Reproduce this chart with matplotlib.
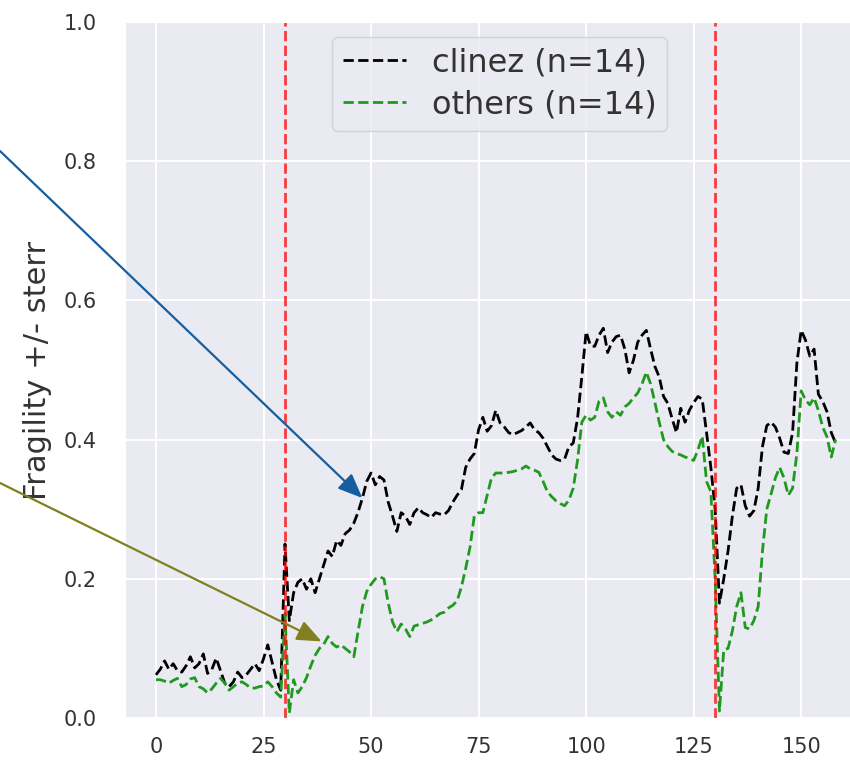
import numpy as np
import matplotlib
matplotlib.use("Agg")
import matplotlib.pyplot as plt
import seaborn as sns

# Mean fragility per time step for the two groups
clinez = [
    0.062, 0.070, 0.082, 0.070, 0.078, 0.068, 0.066, 0.075, 0.088, 0.072,
    0.078, 0.092, 0.064, 0.070, 0.086, 0.068, 0.050, 0.045, 0.052, 0.066,
    0.058, 0.062, 0.070, 0.078, 0.068, 0.085, 0.105, 0.080, 0.055, 0.040,
    0.250, 0.140, 0.180, 0.195, 0.200, 0.185, 0.200, 0.180, 0.200, 0.220,
    0.240, 0.232, 0.255, 0.248, 0.265, 0.270, 0.280, 0.296, 0.316, 0.340,
    0.352, 0.335, 0.347, 0.342, 0.310, 0.290, 0.268, 0.295, 0.290, 0.278,
    0.295, 0.302, 0.295, 0.292, 0.288, 0.295, 0.293, 0.292, 0.298, 0.310,
    0.320, 0.328, 0.360, 0.372, 0.380, 0.414, 0.432, 0.412, 0.420, 0.442,
    0.424, 0.418, 0.410, 0.407, 0.410, 0.413, 0.418, 0.424, 0.414, 0.410,
    0.402, 0.390, 0.378, 0.372, 0.370, 0.372, 0.390, 0.395, 0.430, 0.490,
    0.555, 0.535, 0.534, 0.550, 0.560, 0.525, 0.540, 0.548, 0.550, 0.530,
    0.496, 0.514, 0.540, 0.550, 0.557, 0.530, 0.505, 0.490, 0.462, 0.452,
    0.430, 0.410, 0.445, 0.425, 0.442, 0.453, 0.462, 0.458, 0.410, 0.360,
    0.300, 0.165, 0.200, 0.240, 0.290, 0.330, 0.335, 0.305, 0.290, 0.298,
    0.330, 0.390, 0.420, 0.425, 0.418, 0.402, 0.382, 0.380, 0.410, 0.510,
    0.557, 0.543, 0.520, 0.530, 0.465, 0.455, 0.440, 0.410, 0.395,
]
others = [
    0.055, 0.055, 0.053, 0.050, 0.054, 0.057, 0.045, 0.048, 0.056, 0.058,
    0.045, 0.042, 0.036, 0.042, 0.050, 0.057, 0.050, 0.040, 0.045, 0.050,
    0.052, 0.048, 0.043, 0.043, 0.045, 0.046, 0.052, 0.045, 0.036, 0.030,
    0.150, 0.007, 0.055, 0.036, 0.045, 0.058, 0.075, 0.090, 0.100, 0.106,
    0.117, 0.107, 0.102, 0.105, 0.100, 0.095, 0.088, 0.125, 0.160, 0.182,
    0.192, 0.200, 0.203, 0.200, 0.165, 0.138, 0.124, 0.135, 0.128, 0.117,
    0.132, 0.134, 0.136, 0.138, 0.141, 0.145, 0.150, 0.152, 0.158, 0.162,
    0.168, 0.188, 0.215, 0.245, 0.290, 0.295, 0.295, 0.320, 0.345, 0.352,
    0.352, 0.352, 0.353, 0.354, 0.356, 0.358, 0.362, 0.358, 0.356, 0.353,
    0.340, 0.325, 0.318, 0.312, 0.308, 0.305, 0.313, 0.330, 0.370, 0.425,
    0.435, 0.428, 0.432, 0.455, 0.460, 0.440, 0.432, 0.440, 0.435, 0.447,
    0.452, 0.460, 0.467, 0.480, 0.497, 0.480, 0.453, 0.425, 0.400, 0.390,
    0.383, 0.380, 0.378, 0.375, 0.373, 0.370, 0.385, 0.405, 0.340, 0.325,
    0.200, 0.010, 0.098, 0.100, 0.125, 0.160, 0.180, 0.130, 0.128, 0.140,
    0.160, 0.240, 0.300, 0.322, 0.345, 0.360, 0.345, 0.320, 0.330, 0.380,
    0.470, 0.457, 0.450, 0.460, 0.442, 0.418, 0.404, 0.375, 0.400,
]
series_labels = ["clinez (n=14)", "others (n=14)"]
event_times = [30, 130]
x_ticks = [0, 25, 50, 75, 100, 125, 150]
y_ticks = [0.0, 0.2, 0.4, 0.6, 0.8, 1.0]
# points singled out by the arrows: (time, fragility)
arrow_points = [(48, 0.316), (38.5, 0.110)]
arrow_colors = ["#155ea0", "#808020"]
# arrow tails, in figure pixels (left edge of the canvas)
arrow_tails = [(0, 610), (0, 278)]

sns.set_style("darkgrid")
plt.rcParams["font.family"] = ["DejaVu Sans"]

W, H = 850, 761
fig = plt.figure(figsize=(W / 100, H / 100), dpi=100)
ax = fig.add_axes([125 / W, 43 / H, 745 / W, 696 / H])

t = np.arange(len(clinez))
ax.plot(t, clinez, color="black", linestyle="--", lw=2.0, label=series_labels[0])
ax.plot(t, others, color="#1f9a1f", linestyle="--", lw=2.0, label=series_labels[1])
for et in event_times:
    ax.axvline(et, color="red", linestyle="--", lw=2.0, alpha=0.75)

ax.set_xlim(-7.2, 166.0)
ax.set_ylim(0, 1.0)
ax.set_xticks(x_ticks)
ax.set_yticks(y_ticks)
ax.tick_params(axis="both", labelsize=15, colors="#333333")
ax.tick_params(axis="y", pad=17)
ax.tick_params(axis="x", pad=10)
ax.grid(color="white", lw=1.4)

ax.set_ylabel("Fragility +/- sterr", fontsize=22, color="#333333")
ax.yaxis.set_label_coords(-0.098, 0.5)

leg = ax.legend(loc="upper left", bbox_to_anchor=(332 / W, 1 - 37 / H),
                bbox_transform=fig.transFigure, borderaxespad=0,
                fontsize=23, frameon=True, facecolor="#EAEAF2",
                edgecolor="#cccccc", framealpha=0.8,
                labelspacing=0.33, borderpad=0.33)
for txt in leg.get_texts():
    txt.set_color("#333333")

for (px, py), col, tail in zip(arrow_points, arrow_colors, arrow_tails):
    ax.annotate("", xy=(px, py), xycoords="data",
                xytext=tail, textcoords="figure pixels",
                annotation_clip=False,
                arrowprops=dict(arrowstyle="-|>,head_length=0.6,head_width=0.25",
                                color=col, lw=1.6, mutation_scale=25,
                                shrinkA=0, shrinkB=0))

fig.savefig("out.png", dpi=100)
